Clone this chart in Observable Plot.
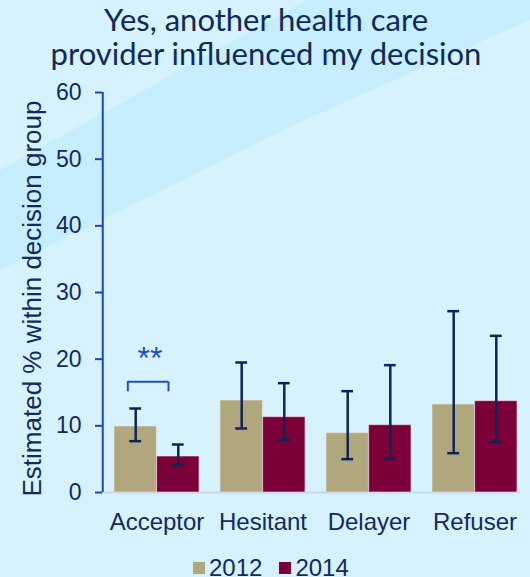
<!DOCTYPE html>
<html>
<head>
<meta charset="utf-8">
<script src="https://cdn.jsdelivr.net/npm/d3@7"></script>
<script src="https://cdn.jsdelivr.net/npm/@observablehq/plot@0.6"></script>
<style>
  html, body { margin: 0; padding: 0; }
  #wrap { position: relative; width: 530px; height: 577px; overflow: hidden; background: #d6f2fd; }
  #bg { position: absolute; left: 0; top: 0; }
  #chart { position: absolute; left: 0; top: 70px; }
  #legend { position: absolute; left: 193px; top: 555px; display: flex; align-items: center;
            font: 24px "Liberation Sans", Arial, sans-serif; color: #14295e; line-height: 26px; }
  #legend .sw { display: inline-block; width: 12px; height: 12px; margin-right: 4px; }
  #legend .it { display: flex; align-items: center; margin-right: 17px; }
</style>
</head>
<body>
<div id="wrap">
  <svg id="bg" width="530" height="577">
    <polygon points="0,170 307,0 530,0 530,20 300,122 0,270" fill="#c6eefc"></polygon>
    <g font-family="Lato, 'Open Sans', sans-serif" font-size="31" fill="#10295d" text-anchor="middle">
      <text id="t1" x="266" y="31"></text>
      <text id="t2" x="266" y="65"></text>
    </g>
  </svg>
  <div id="chart"></div>
  <div id="legend"></div>
</div>
<script>
// ---- data ----
const titleLines = ["Yes, another health care", "provider influenced my decision"];
const yLabel = "Estimated % within decision group";
const categories = ["Acceptor", "Hesitant", "Delayer", "Refuser"];
const years = ["2012", "2014"];
const yearColors = ["#b1a77c", "#7a0037"];
const pct2012 = [9.9, 13.8, 8.9, 13.2];
const pct2014 = [5.4, 11.3, 10.1, 13.7];
const low2012 = [7.7, 9.6, 5.0, 5.9];
const high2012 = [12.6, 19.5, 15.2, 27.2];
const low2014 = [4.1, 7.9, 5.1, 7.6];
const high2014 = [7.2, 16.4, 19.1, 23.5];
const yTicks = [0, 10, 20, 30, 40, 50, 60];
const sigCategory = ["Acceptor"];
const sigLabel = "**";
const sigBracketTop = 16.6;
const sigBracketLeg = 15.1;
const sigLabelY = 20.0;

// ---- build ----
document.getElementById("t1").textContent = titleLines[0];
document.getElementById("t2").textContent = titleLines[1];

const rows = categories.flatMap((c, i) => [
  {cat: c, year: years[0], v: pct2012[i], lo: low2012[i], hi: high2012[i]},
  {cat: c, year: years[1], v: pct2014[i], lo: low2014[i], hi: high2014[i]}
]);
const r12 = rows.filter(d => d.year === years[0]);
const r14 = rows.filter(d => d.year === years[1]);

const W = 530, H = 470, ML = 102, MR = 2, MT = 22, MB = 48;
const pIn = 0.2, pOut = 0.1;
const step = (W - ML - MR) / (categories.length - pIn + 2 * pOut);
const bw = step * (1 - pIn);
const half = bw / 2;
const capW = 12;
const navy = "#14295e", axisBlue = "#1a47b8", errColor = "#0c2558", sigBlue = "#1f4fc2";

const plot = Plot.plot({
  width: W, height: H,
  marginLeft: ML, marginRight: MR, marginTop: MT, marginBottom: MB,
  style: {background: "transparent", color: navy, fontFamily: "'Liberation Sans', Arial, sans-serif"},
  x: {domain: categories, paddingInner: pIn, paddingOuter: pOut, axis: null},
  y: {domain: [0, 60], axis: null},
  color: {domain: years, range: yearColors},
  marks: [
    Plot.ruleY([0], {stroke: "#c5d5f3", strokeWidth: 2, insetRight: 8}),
    Plot.barY(r12, {x: "cat", y: "v", fill: "year", insetRight: half, stroke: "#efe6ee", strokeOpacity: 0.6, strokeWidth: 1}),
    Plot.barY(r14, {x: "cat", y: "v", fill: "year", insetLeft: half, stroke: "#efe6ee", strokeOpacity: 0.6, strokeWidth: 1}),
    Plot.ruleX(r12, {x: "cat", y1: "lo", y2: "hi", dx: -half / 2, stroke: errColor, strokeWidth: 2.5}),
    Plot.ruleX(r14, {x: "cat", y1: "lo", y2: "hi", dx: half / 2, stroke: errColor, strokeWidth: 2.5}),
    ...["lo", "hi"].flatMap(k => [
      Plot.tickY(r12, {x: "cat", y: k, dx: -half / 2, insetLeft: (bw - capW) / 2, insetRight: (bw - capW) / 2, stroke: errColor, strokeWidth: 2.5}),
      Plot.tickY(r14, {x: "cat", y: k, dx: half / 2, insetLeft: (bw - capW) / 2, insetRight: (bw - capW) / 2, stroke: errColor, strokeWidth: 2.5})
    ]),
    // significance bracket
    Plot.tickY(sigCategory, {x: d => d, y: () => sigBracketTop, insetLeft: 13.4, insetRight: 31, stroke: sigBlue, strokeWidth: 2}),
    Plot.ruleX(sigCategory, {x: d => d, y1: () => sigBracketLeg, y2: () => sigBracketTop, dx: -29.2, stroke: sigBlue, strokeWidth: 2}),
    Plot.ruleX(sigCategory, {x: d => d, y1: () => sigBracketLeg, y2: () => sigBracketTop, dx: 11.5, stroke: sigBlue, strokeWidth: 2}),
    Plot.text(sigCategory, {x: d => d, y: () => sigLabelY, text: () => sigLabel, dx: -7, fontSize: 32, fill: sigBlue}),
    // axes
    Plot.axisX({domain: categories, tickSize: 0, tickPadding: 20, fontSize: 24, fill: navy, label: null}),
    Plot.axisY({ticks: yTicks, tickSize: 7, tickPadding: 14, fontSize: 23, stroke: axisBlue, strokeWidth: 2, fill: navy, label: null}),
    Plot.ruleX([categories[0]], {x: d => d, y1: () => 0, y2: () => 60, dx: -(pOut * step + half) - 1, stroke: axisBlue, strokeWidth: 2}),
    Plot.text([yLabel], {frameAnchor: "left", text: d => d, rotate: -90, textAnchor: "middle", dx: -70, dy: 6, fontSize: 26, fill: navy})
  ]
});
document.getElementById("chart").appendChild(plot);

const legend = document.getElementById("legend");
years.forEach((y, i) => {
  const it = document.createElement("span");
  it.className = "it";
  const sw = document.createElement("span");
  sw.className = "sw";
  sw.style.background = yearColors[i];
  it.appendChild(sw);
  it.appendChild(document.createTextNode(y));
  legend.appendChild(it);
});
</script>
</body>
</html>
